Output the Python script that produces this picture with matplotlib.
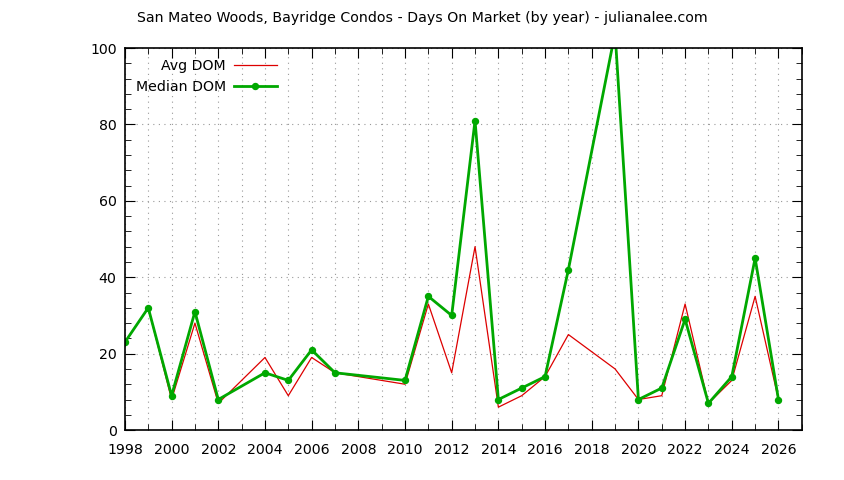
import numpy as np
import matplotlib
matplotlib.use("Agg")
import matplotlib.pyplot as plt
from matplotlib.ticker import MultipleLocator

# Годы и значения
years = [1998, 1999, 2000, 2001, 2002, 2004, 2005, 2006, 2007, 2010, 2011, 2012,
         2013, 2014, 2015, 2016, 2017, 2019, 2020, 2021, 2022, 2023, 2024, 2025, 2026]
avg_dom = [23, 32, 8, 28, 7, 19, 9, 19, 15, 12, 33, 15,
           48, 6, 9, 14, 25, 16, 8, 9, 33, 7, 13, 35, 8]
median_dom = [23, 32, 9, 31, 8, 15, 13, 21, 15, 13, 35, 30,
              81, 8, 11, 14, 42, 104, 8, 11, 29, 7, 14, 45, 8]

title = "San Mateo Woods, Bayridge Condos - Days On Market (by year) - julianalee.com"

plt.rcParams['font.family'] = ['DejaVu Sans']
fig = plt.figure(figsize=(8.44, 4.8), dpi=100)
ax = fig.add_axes([0.148, 0.104, 0.802, 0.796])

ax.plot(years, avg_dom, color='#dd0000', lw=0.9, label='Avg DOM')
ax.plot(years, median_dom, color='#00a800', lw=2, marker='o', ms=4.3,
        label='Median DOM')

ax.set_xlim(1998, 2027)
ax.set_ylim(0, 100)
ax.xaxis.set_major_locator(MultipleLocator(2))
ax.xaxis.set_minor_locator(MultipleLocator(1))
ax.yaxis.set_major_locator(MultipleLocator(20))
ax.yaxis.set_minor_locator(MultipleLocator(4))

ax.grid(True, which='major', color='#999999', ls=(0, (1, 4)), lw=0.8)
ax.grid(True, which='minor', axis='x', color='#999999', ls=(0, (1, 4)), lw=0.8)
ax.tick_params(which='both', direction='in', top=True, right=True,
               labelsize=10.2, colors='black')
ax.tick_params(which='major', length=7)
ax.tick_params(which='minor', length=4)
ax.tick_params(axis='x', which='major', pad=9)
ax.tick_params(axis='y', which='major', pad=6)
for s in ax.spines.values():
    s.set_linewidth(1.2)

fig.text(0.5, 0.962, title, ha='center', va='center', fontsize=10.2)

leg = ax.legend(loc='upper left', frameon=False, markerfirst=False,
                fontsize=10.2, handlelength=3, handletextpad=0.6,
                borderaxespad=0.4, labelspacing=0.45,
                bbox_to_anchor=(-0.001, 1.0))
for t in leg.get_texts():
    t.set_ha('right')
leg._legend_box.align = 'right'

fig.savefig('out.png', dpi=100)
